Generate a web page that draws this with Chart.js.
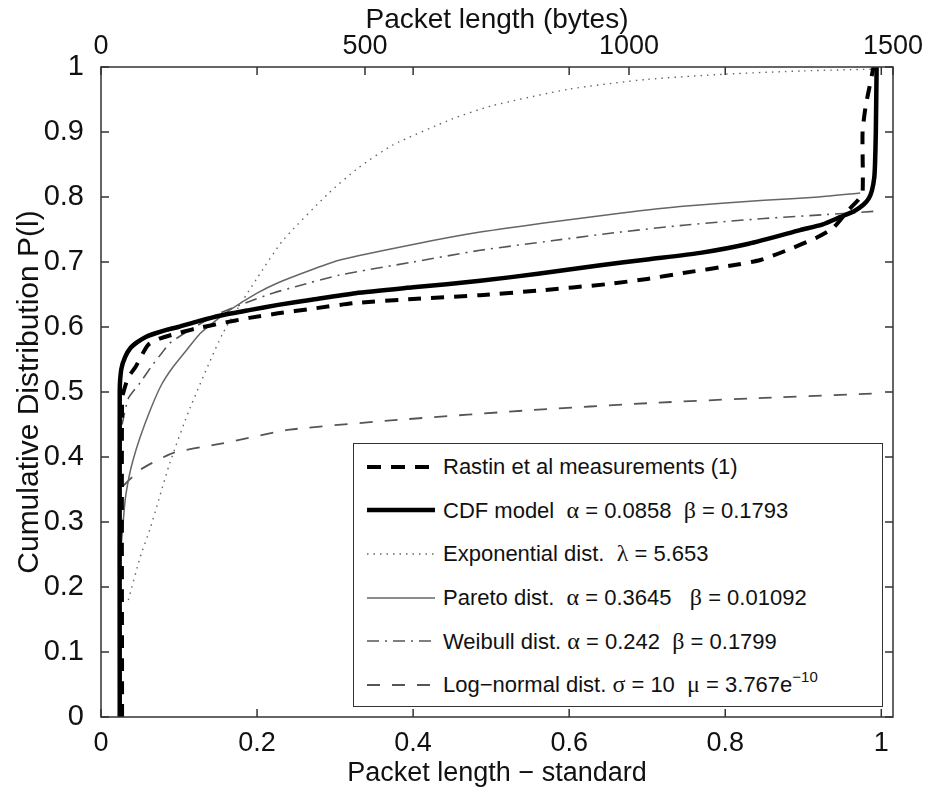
<!DOCTYPE html>
<html>
<head>
<meta charset="UTF-8">
<title>Packet length CDF</title>
<script src="https://cdn.jsdelivr.net/npm/chart.js@4.4.1/dist/chart.umd.min.js"></script>
<style>
  body { margin: 0; background: #fff; }
  .wrap { position: relative; width: 933px; height: 790px; }
  #legend { position: absolute; left: 353px; top: 443px; width: 530px; height: 264px; border: 1.5px solid #333; background: #fff;
            font-family: 'Liberation Sans', Arial, sans-serif; font-size: 22px; color: #111; box-sizing: border-box; padding-top: 1px; }
  .row { height: 43.6px; display: flex; align-items: center; white-space: pre; }
  .row svg { margin-left: 13px; margin-right: 8px; flex: none; }
  .g { font-family: 'Liberation Serif', 'DejaVu Serif', serif; font-size: 24px; }
  sup { font-size: 15px; vertical-align: 10px; line-height: 0; }
</style>
</head>
<body>
<div class="wrap">
  <canvas id="cdf" width="933" height="790"></canvas>
  <div id="legend">
    <div class="row"><svg width="68" height="10"><line x1="0" y1="5" x2="68" y2="5" stroke="#000" stroke-width="4" stroke-dasharray="14 10"/></svg><span>Rastin et al measurements (1)</span></div>
    <div class="row"><svg width="68" height="10"><line x1="0" y1="5" x2="68" y2="5" stroke="#000" stroke-width="4.5"/></svg><span>CDF model  <span class="g">α</span> = 0.0858  <span class="g">β</span> = 0.1793</span></div>
    <div class="row"><svg width="68" height="10"><line x1="0" y1="5" x2="68" y2="5" stroke="#666" stroke-width="1.4" stroke-dasharray="1.5 5"/></svg><span>Exponential dist.  <span class="g">λ</span> = 5.653</span></div>
    <div class="row"><svg width="68" height="10"><line x1="0" y1="5" x2="68" y2="5" stroke="#666" stroke-width="1.5"/></svg><span>Pareto dist.  <span class="g">α</span> = 0.3645   <span class="g">β</span> = 0.01092</span></div>
    <div class="row"><svg width="68" height="10"><line x1="0" y1="5" x2="68" y2="5" stroke="#555" stroke-width="1.6" stroke-dasharray="12 6 2 6"/></svg><span>Weibull dist. <span class="g">α</span> = 0.242  <span class="g">β</span> = 0.1799</span></div>
    <div class="row"><svg width="68" height="10"><line x1="0" y1="5" x2="68" y2="5" stroke="#555" stroke-width="1.8" stroke-dasharray="13 12"/></svg><span>Log−normal dist. <span class="g">σ</span> = 10  <span class="g">μ</span> = 3.767e<sup>−10</sup></span></div>
  </div>
</div>
<script>
// values (x = standardised packet length, y = P(l))
const rastinX = [0.027, 0.027, 0.030, 0.035, 0.044, 0.060, 0.075, 0.091, 0.12, 0.155, 0.19, 0.227, 0.27, 0.326, 0.40, 0.486, 0.56, 0.649, 0.70, 0.746, 0.81, 0.845, 0.879, 0.918, 0.938, 0.958, 0.970, 0.976, 0.976, 0.980, 0.985, 0.990];
const rastinY = [0.0, 0.49, 0.505, 0.523, 0.538, 0.572, 0.582, 0.588, 0.597, 0.606, 0.614, 0.621, 0.628, 0.637, 0.643, 0.649, 0.656, 0.666, 0.674, 0.683, 0.695, 0.703, 0.718, 0.738, 0.752, 0.78, 0.795, 0.806, 0.90, 0.94, 0.97, 1.0];

const cdfX = [0.024, 0.024, 0.026, 0.031, 0.038, 0.047, 0.058, 0.069, 0.085, 0.099, 0.125, 0.155, 0.19, 0.227, 0.27, 0.326, 0.40, 0.486, 0.56, 0.64, 0.70, 0.768, 0.83, 0.896, 0.925, 0.947, 0.965, 0.977, 0.984, 0.988, 0.991, 0.992, 0.993, 0.994];
const cdfY = [0.0, 0.50, 0.535, 0.554, 0.568, 0.577, 0.585, 0.59, 0.596, 0.60, 0.609, 0.618, 0.626, 0.634, 0.642, 0.652, 0.661, 0.671, 0.682, 0.695, 0.704, 0.714, 0.728, 0.749, 0.758, 0.769, 0.778, 0.788, 0.798, 0.81, 0.83, 0.852, 0.90, 1.0];

const expX = [0.035, 0.05, 0.063, 0.088, 0.114, 0.156, 0.2, 0.233, 0.291, 0.33, 0.374, 0.45, 0.5, 0.6, 0.7, 0.8, 0.9, 1.0];
const expY = [0.18, 0.245, 0.29, 0.39, 0.475, 0.59, 0.675, 0.733, 0.805, 0.845, 0.88, 0.92, 0.94, 0.966, 0.981, 0.989, 0.994, 0.997];

const paretoX = [0.026, 0.031, 0.036, 0.041, 0.05, 0.063, 0.077, 0.092, 0.11, 0.127, 0.145, 0.165, 0.2, 0.227, 0.27, 0.306, 0.4, 0.486, 0.58, 0.665, 0.75, 0.85, 0.92, 0.973];
const paretoY = [0.265, 0.334, 0.37, 0.395, 0.43, 0.472, 0.51, 0.538, 0.565, 0.59, 0.608, 0.626, 0.652, 0.668, 0.688, 0.703, 0.727, 0.746, 0.762, 0.775, 0.786, 0.795, 0.800, 0.806];

const weibullX = [0.027, 0.035, 0.05, 0.065, 0.078, 0.088, 0.10, 0.12, 0.15, 0.185, 0.22, 0.249, 0.306, 0.4, 0.486, 0.58, 0.665, 0.75, 0.85, 0.93, 0.992];
const weibullY = [0.45, 0.49, 0.514, 0.54, 0.56, 0.575, 0.585, 0.60, 0.62, 0.637, 0.652, 0.662, 0.68, 0.70, 0.718, 0.733, 0.746, 0.757, 0.767, 0.773, 0.778];

const lognX = [0.028, 0.05, 0.092, 0.156, 0.242, 0.39, 0.55, 0.704, 0.85, 1.0];
const lognY = [0.355, 0.38, 0.406, 0.421, 0.442, 0.458, 0.472, 0.483, 0.491, 0.498];

const yTicks = [0, 0.1, 0.2, 0.3, 0.4, 0.5, 0.6, 0.7, 0.8, 0.9, 1];
const xTicks = [0, 0.2, 0.4, 0.6, 0.8, 1];
const byteTicks = [0, 500, 1000, 1500];

const pts = (xs, ys) => xs.map((x, i) => ({ x: x, y: ys[i] }));
const FONT = "'Liberation Sans', Arial, sans-serif";

function line(label, xs, ys, color, width, dash) {
  return { label: label, data: pts(xs, ys), borderColor: color, borderWidth: width, borderDash: dash,
           pointRadius: 0, tension: 0.2, fill: false, xAxisID: 'x', yAxisID: 'y' };
}

// MATLAB style box with inward ticks
const frame = {
  id: 'frame',
  afterDatasetsDraw(chart) {
    const { ctx, chartArea: a, scales } = chart;
    const t = 8;
    ctx.save();
    ctx.strokeStyle = '#333';
    ctx.lineWidth = 1.5;
    ctx.strokeRect(a.left, a.top, a.right - a.left, a.bottom - a.top);
    ctx.beginPath();
    yTicks.forEach(v => {
      const py = scales.y.getPixelForValue(v);
      ctx.moveTo(a.left, py); ctx.lineTo(a.left + t, py);
      ctx.moveTo(a.right, py); ctx.lineTo(a.right - t, py);
    });
    xTicks.forEach(v => {
      const px = scales.x.getPixelForValue(v);
      ctx.moveTo(px, a.bottom); ctx.lineTo(px, a.bottom - t);
      ctx.moveTo(px, a.top); ctx.lineTo(px, a.top + t);
    });
    byteTicks.forEach(v => {
      const px = scales.xTop.getPixelForValue(v);
      ctx.moveTo(px, a.top); ctx.lineTo(px, a.top + t);
    });
    ctx.stroke();
    ctx.restore();
  }
};

new Chart(document.getElementById('cdf'), {
  type: 'line',
  data: {
    datasets: [
      line('Rastin et al measurements (1)', rastinX, rastinY, '#000', 4, [13, 10]),
      line('CDF model', cdfX, cdfY, '#000', 4.5, []),
      line('Exponential dist.', expX, expY, '#666', 1.4, [1.5, 5]),
      line('Pareto dist.', paretoX, paretoY, '#666', 1.5, []),
      line('Weibull dist.', weibullX, weibullY, '#555', 1.6, [12, 6, 2, 6]),
      line('Log-normal dist.', lognX, lognY, '#555', 1.8, [13, 12])
    ]
  },
  options: {
    responsive: false,
    animation: false,
    layout: { padding: { left: 0, right: 40, top: 0, bottom: 0 } },
    plugins: { legend: { display: false }, tooltip: { enabled: false } },
    scales: {
      x: {
        type: 'linear', position: 'bottom', min: 0, max: 1.015,
        grid: { display: false }, border: { display: false },
        afterFit: s => { s.height = 73; },
        afterBuildTicks: s => { s.ticks = xTicks.map(v => ({ value: v })); },
        ticks: { padding: 2, color: '#111', font: { family: FONT, size: 27 }, maxRotation: 0,
                 callback: v => String(Math.round(v * 10) / 10) },
        title: { display: true, text: 'Packet length − standard', color: '#111', font: { family: FONT, size: 27 }, padding: { bottom: 0 } }
      },
      xTop: {
        type: 'linear', position: 'top', min: 0, max: 1500,
        grid: { display: false }, border: { display: false },
        afterFit: s => { s.height = 67; },
        afterBuildTicks: s => { s.ticks = byteTicks.map(v => ({ value: v })); },
        ticks: { padding: -4, color: '#111', font: { family: FONT, size: 27 }, maxRotation: 0,
                 callback: v => String(v) },
        title: { display: true, text: 'Packet length (bytes)', color: '#111', font: { family: FONT, size: 28 }, padding: { top: 3 } }
      },
      y: {
        type: 'linear', position: 'left', min: 0, max: 1,
        grid: { display: false }, border: { display: false },
        afterFit: s => { s.width = 101; },
        afterBuildTicks: s => { s.ticks = yTicks.map(v => ({ value: v })); },
        ticks: { padding: 9, color: '#111', font: { family: FONT, size: 29 },
                 callback: v => String(Math.round(v * 10) / 10) },
        title: { display: true, text: 'Cumulative Distribution P(l)', color: '#111', font: { family: FONT, size: 30 }, padding: { top: 12 } }
      }
    }
  },
  plugins: [frame]
});
</script>
</body>
</html>
